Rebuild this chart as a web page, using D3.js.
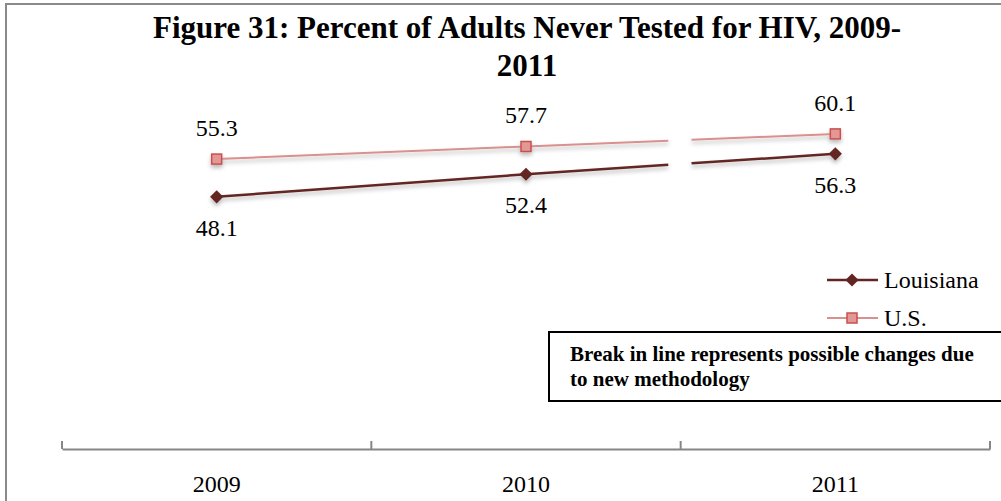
<!DOCTYPE html>
<html>
<head>
<meta charset="utf-8">
<script src="https://cdn.jsdelivr.net/npm/d3@7/dist/d3.min.js"></script>
<style>
  html, body { margin: 0; padding: 0; background: #fff; }
  svg { display: block; }
  text { font-family: "Liberation Serif", "Times New Roman", serif; fill: #000; }
</style>
</head>
<body>
<svg id="chart" width="1001" height="501"></svg>
<script>
// Chart data
const years = ["2009", "2010", "2011"];
const louisiana = [48.1, 52.4, 56.3];
const us = [55.3, 57.7, 60.1];
const seriesNames = ["Louisiana", "U.S."];
const titleLines = ["Figure 31: Percent of Adults Never Tested for HIV, 2009-", "2011"];
const noteLines = ["Break in line represents possible changes due", "to new methodology"];
// The line is interrupted between 2010 and 2011 (fraction of that interval)
const breakSpan = [0.46, 0.535];

const svg = d3.select("#chart");
const W = 1001, H = 501;

// Drop shadow used by the series
const defs = svg.append("defs");
const f = defs.append("filter").attr("id", "shadow")
  .attr("x", "-20%").attr("y", "-50%").attr("width", "140%").attr("height", "200%");
f.append("feDropShadow").attr("dx", 0).attr("dy", 3).attr("stdDeviation", 2)
  .attr("flood-color", "#000").attr("flood-opacity", 0.28);

// Outer frame
svg.append("rect")
  .attr("x", 6).attr("y", 4).attr("width", W + 20).attr("height", H + 20)
  .attr("fill", "none").attr("stroke", "#8a8a8a").attr("stroke-width", 2);

// Title
svg.append("g").selectAll("text").data(titleLines).join("text")
  .attr("x", 527).attr("y", (d, i) => 38 + i * 38)
  .attr("text-anchor", "middle")
  .attr("font-size", 31).attr("font-weight", "bold")
  .text(d => d);

// Scales
const x = d3.scaleBand().domain(years).range([62, 990]).padding(0);
const cx = d => x(d) + x.bandwidth() / 2;
const y = d3.scaleLinear().domain([0, 70]).range([449, 82]);

// Category axis: baseline, boundary ticks, labels
const axisG = svg.append("g").attr("transform", `translate(0,${y(0)})`);
axisG.call(d3.axisBottom(x).tickSize(0).tickPadding(26))
  .call(g => g.select(".domain").attr("stroke", "#868686").attr("stroke-width", 2))
  .call(g => g.selectAll(".tick text").attr("font-size", 24).attr("fill", "#000"));
const boundaries = years.map(d => x(d)).concat([x.range()[1]]);
axisG.selectAll("line.bound").data(boundaries).join("line")
  .attr("class", "bound")
  .attr("x1", d => d).attr("x2", d => d)
  .attr("y1", 0).attr("y2", -8)
  .attr("stroke", "#868686").attr("stroke-width", 2);

// Split a series into segments around the break
function segments(vals) {
  const pts = vals.map((v, i) => [cx(years[i]), y(v)]);
  const a = pts[1], b = pts[2];
  const lerp = t => [a[0] + (b[0] - a[0]) * t, a[1] + (b[1] - a[1]) * t];
  return [[pts[0], pts[1], lerp(breakSpan[0])], [lerp(breakSpan[1]), pts[2]]];
}
const line = d3.line();

const series = [
  { name: seriesNames[0], values: louisiana, color: "#632523", width: 2.5, marker: "diamond", labelDy: 39 },
  { name: seriesNames[1], values: us, color: "#d9908e", width: 2, marker: "square", labelDy: -23 }
];

const diamond = d3.symbol().type(d3.symbolDiamond2).size(110);
function drawMarker(g, s, px, py) {
  if (s.marker === "diamond") {
    g.append("path").attr("d", diamond()).attr("transform", `translate(${px},${py})`)
      .attr("fill", "#632523");
  } else {
    g.append("rect").attr("x", px - 5).attr("y", py - 5).attr("width", 10).attr("height", 10)
      .attr("fill", "#e39896").attr("stroke", "#c8504f").attr("stroke-width", 1.5);
  }
}

series.forEach(s => {
  const g = svg.append("g").attr("filter", "url(#shadow)");
  g.selectAll("path.seg").data(segments(s.values)).join("path")
    .attr("class", "seg")
    .attr("d", line).attr("fill", "none")
    .attr("stroke", s.color).attr("stroke-width", s.width);
  s.values.forEach((v, i) => drawMarker(g, s, cx(years[i]), y(v)));
  svg.append("g").selectAll("text").data(s.values).join("text")
    .attr("x", (d, i) => cx(years[i]))
    .attr("y", d => y(d) + s.labelDy)
    .attr("text-anchor", "middle").attr("font-size", 24)
    .text(d => d.toFixed(1));
});

// Legend
const legend = svg.append("g");
series.forEach((s, i) => {
  const ly = 280 + i * 38;
  const lg = legend.append("g");
  lg.append("line").attr("x1", 827).attr("x2", 878).attr("y1", ly).attr("y2", ly)
    .attr("stroke", s.color).attr("stroke-width", s.width);
  drawMarker(lg, s, 852, ly);
  legend.append("text").attr("x", 884).attr("y", ly + 8).attr("font-size", 24).text(s.name);
});

// Note box
svg.append("rect").attr("x", 549).attr("y", 332).attr("width", 470).attr("height", 69)
  .attr("fill", "#fff").attr("stroke", "#000").attr("stroke-width", 2);
svg.append("g").selectAll("text").data(noteLines).join("text")
  .attr("x", 570).attr("y", (d, i) => 361 + i * 25)
  .attr("font-size", 21).attr("font-weight", "bold")
  .text(d => d);
</script>
</body>
</html>
